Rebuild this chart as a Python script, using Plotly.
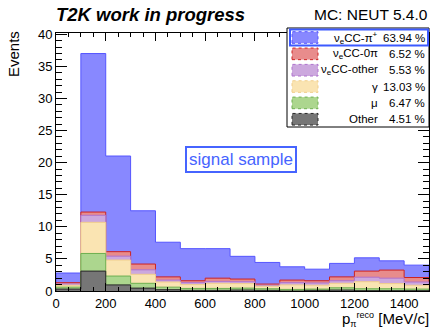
import numpy as np
import plotly.graph_objects as go

# ---------------- data ----------------
bin_edges = [0, 100, 200, 300, 400, 500, 600, 700, 800, 900, 1000, 1100, 1200, 1300, 1400, 1500]
other    = [0.30, 3.10, 0.95, 0.45, 0.20, 0.10, 0.10, 0.15, 0.10, 0.00, 0.10, 0.15, 0.05, 0.05, 0.05]
mu       = [0.30, 2.75, 1.38, 0.75, 0.40, 0.30, 0.30, 0.30, 0.25, 0.25, 0.20, 0.35, 0.30, 0.30, 0.25]
gamma    = [0.30, 4.85, 2.50, 1.40, 0.80, 0.60, 0.80, 0.70, 0.40, 0.70, 0.60, 0.70, 1.10, 0.80, 0.60]
cc_other = [0.20, 1.10, 0.60, 0.70, 0.30, 0.30, 0.30, 0.30, 0.15, 0.35, 0.35, 0.40, 0.70, 0.85, 0.50]
cc_0pi   = [0.20, 0.50, 0.70, 0.90, 0.50, 0.30, 0.50, 0.41, 0.18, 0.40, 0.35, 0.60, 0.95, 1.26, 0.70]
cc_pip   = [1.50, 24.7, 14.9, 8.30, 5.40, 5.00, 4.60, 3.54, 3.37, 2.07, 1.80, 2.10, 2.07, 1.44, 1.93]

legend_labels = ["ν<sub>e</sub>CC-π<sup>+</sup>", "ν<sub>e</sub>CC-0π", "ν<sub>e</sub>CC-other", "γ", "μ", "Other"]
legend_percents = ["63.94 %", "6.52 %", "5.53 %", "13.03 %", "6.47 %", "4.51 %"]

x_tick_vals = [0, 200, 400, 600, 800, 1000, 1200, 1400]
y_tick_vals = [0, 5, 10, 15, 20, 25, 30, 35, 40]

# styles (bottom -> top of stack)
fills = ["rgb(118,118,118)", "rgb(172,214,142)", "rgb(250,228,178)",
         "rgb(204,168,222)", "rgb(232,140,140)", "rgb(136,136,255)"]
lines = ["rgb(40,40,40)", "rgb(110,175,80)", "rgb(240,205,140)",
         "rgb(175,115,205)", "rgb(205,35,35)", "rgb(85,85,255)"]

layers = [other, mu, gamma, cc_other, cc_0pi, cc_pip]
cum = np.cumsum(np.array(layers), axis=0)

fig = go.Figure()
xs = [bin_edges[0]] + bin_edges[:-1] + [bin_edges[-1]]
for i in reversed(range(len(layers))):
    ys = [0] + list(cum[i]) + [0]
    fig.add_trace(go.Scatter(
        x=xs, y=ys, mode="lines", line_shape="hv",
        line=dict(color=lines[i], width=1),
        fill="tozeroy", fillcolor=fills[i],
        hoverinfo="skip", showlegend=False))

W, H = 433, 328
L, R, T, B = 56, 429, 33, 291

def px(x):
    return (x - L) / (R - L)

def py(y):
    return (B - y) / (B - T)

font = "Liberation Sans, Arial, sans-serif"
annotations = []
shapes = []

annotations.append(dict(text="<b><i>T2K work in progress</i></b>", x=px(54), y=py(14),
                        xref="paper", yref="paper", xanchor="left", yanchor="middle",
                        showarrow=False, font=dict(size=18.5, family=font, color="black")))
annotations.append(dict(text="MC: NEUT 5.4.0", x=px(430), y=py(14),
                        xref="paper", yref="paper", xanchor="right", yanchor="middle",
                        showarrow=False, font=dict(size=15.5, family=font, color="black")))
annotations.append(dict(text="Events", x=px(13), y=py(54), textangle=-90,
                        xref="paper", yref="paper", xanchor="center", yanchor="middle",
                        showarrow=False, font=dict(size=15, family=font, color="black")))
annotations.append(dict(text="p<sub><span style='font-size:9px'>π</span></sub>"
                             "<sup><span style='font-size:9px'>reco</span></sup> [MeV/c]",
                        x=px(431), y=py(319.5), xref="paper", yref="paper",
                        xanchor="right", yanchor="middle",
                        showarrow=False, font=dict(size=15, family=font, color="black")))
annotations.append(dict(text="signal sample", x=px(241), y=py(159),
                        xref="paper", yref="paper", xanchor="center", yanchor="middle",
                        showarrow=False, bordercolor="rgb(70,100,255)", borderwidth=2, borderpad=2,
                        bgcolor="white",
                        font=dict(size=17, family=font, color="rgb(70,100,255)")))

# legend box
shapes.append(dict(type="rect", xref="paper", yref="paper", x0=px(287), x1=px(429),
                   y0=py(127), y1=py(28), line=dict(color="black", width=1), fillcolor="white"))
shapes.append(dict(type="rect", xref="paper", yref="paper", x0=px(290), x1=px(428),
                   y0=py(45.5), y1=py(29.5), line=dict(color="rgb(60,90,255)", width=2)))
order = [5, 4, 3, 2, 1, 0]
for k, li in enumerate(order):
    cy = 37.5 + k * 16.35
    shapes.append(dict(type="rect", xref="paper", yref="paper", x0=px(292), x1=px(318),
                       y0=py(cy + 5.8), y1=py(cy - 5.8),
                       line=dict(color=lines[li], width=1, dash="dot"), fillcolor=fills[li]))
    annotations.append(dict(text=legend_labels[k], x=px(380), y=py(cy),
                            xref="paper", yref="paper", xanchor="right", yanchor="middle",
                            showarrow=False, font=dict(size=11.5, family=font, color="black")))
    annotations.append(dict(text=legend_percents[k], x=px(427), y=py(cy),
                            xref="paper", yref="paper", xanchor="right", yanchor="middle",
                            showarrow=False, font=dict(size=11.5, family=font, color="black")))

fig.update_layout(
    width=W, height=H,
    margin=dict(l=L, r=W - R, t=T, b=H - B, pad=0),
    paper_bgcolor="white", plot_bgcolor="white",
    font=dict(family=font, size=13, color="black"),
    showlegend=False,
    annotations=annotations, shapes=shapes,
)
fig.update_xaxes(range=[0, 1500], tickvals=x_tick_vals, ticks="inside", ticklen=8,
                 tickcolor="black", showline=True, linecolor="black", linewidth=1,
                 mirror="ticks", showgrid=False, zeroline=False,
                 tickfont=dict(size=13, family=font),
                 minor=dict(dtick=50, ticks="inside", ticklen=4, tickcolor="black", showgrid=False))
fig.update_yaxes(range=[0, 40.2], tickvals=y_tick_vals, ticks="inside", ticklen=11,
                 tickcolor="black", showline=True, linecolor="black", linewidth=1,
                 mirror="ticks", showgrid=False, zeroline=False,
                 tickfont=dict(size=13, family=font),
                 minor=dict(dtick=1, ticks="inside", ticklen=6, tickcolor="black", showgrid=False))

fig.write_html("out.html")
